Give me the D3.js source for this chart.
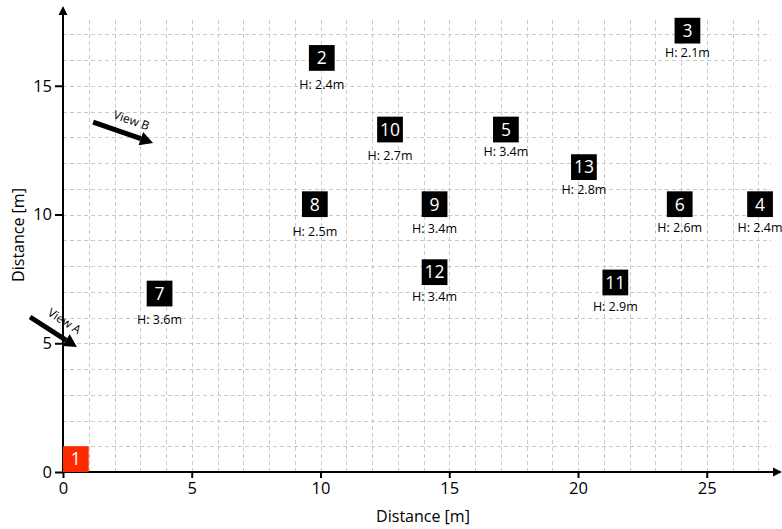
<!DOCTYPE html>
<html>
<head>
<meta charset="utf-8">
<script src="https://cdn.jsdelivr.net/npm/d3@7/dist/d3.min.js"></script>
<style>
  html, body { margin: 0; padding: 0; background: #fff; }
  svg { display: block; font-family: "Open Sans", sans-serif; }
</style>
</head>
<body>
<svg id="chart" width="782" height="529"></svg>
<script>
// ---- data ----
const ids = ["1","2","3","4","5","6","7","8","9","10","11","12","13"];
const xs = [0.5, 10.05, 24.25, 27.07, 17.2, 23.95, 3.75, 9.78, 14.43, 12.7, 21.45, 14.43, 20.23];
const ys = [0.5, 16.08, 17.14, 10.4, 13.3, 10.4, 6.93, 10.4, 10.4, 13.3, 7.36, 7.76, 11.84];
const heights = [null, 2.4, 2.1, 2.4, 3.4, 2.6, 3.6, 2.5, 3.4, 2.7, 2.9, 3.4, 2.8];
const labelYs = [null, 15.03, 16.3, 9.49, 12.44, 9.49, 5.93, 9.33, 9.44, 12.28, 6.42, 6.81, 10.98];
const xTicks = [0, 5, 10, 15, 20, 25];
const yTicks = [0, 5, 10, 15];
const xTitle = "Distance [m]";
const yTitle = "Distance [m]";
const views = ["View A", "View B"];
const viewStart = [[-1.28, 6.02], [1.17, 13.59]];
const viewEnd = [[0.54, 4.85], [3.5, 12.78]];

// ---- layout ----
const svg = d3.select("#chart");
const x = d3.scaleLinear().domain([0, 28]).range([63, 63 + 28 * 25.75]);
const y = d3.scaleLinear().domain([0, 18]).range([472, 472 - 18 * 25.75]);
const gridXMax = 27.5, gridYMax = 17.6;

// grid
const grid = svg.append("g").attr("stroke", "#cacaca").attr("stroke-width", 1)
  .attr("stroke-dasharray", "4,3").attr("fill", "none");
grid.selectAll("line.v").data(d3.range(1, 28)).join("line").attr("class", "v")
  .attr("x1", d => Math.round(x(d)) + 0.5).attr("x2", d => Math.round(x(d)) + 0.5)
  .attr("y1", y(0)).attr("y2", y(gridYMax));
grid.selectAll("line.h").data(d3.range(1, 18)).join("line").attr("class", "h")
  .attr("y1", d => Math.round(y(d)) + 0.5).attr("y2", d => Math.round(y(d)) + 0.5)
  .attr("x1", x(0)).attr("x2", x(gridXMax));

// axes
const xAxis = d3.axisBottom(x).tickValues(xTicks).tickSize(6).tickPadding(4).tickFormat(d3.format("d"));
const yAxis = d3.axisLeft(y).tickValues(yTicks).tickSize(8).tickPadding(3).tickFormat(d3.format("d"));
const gx = svg.append("g").attr("transform", `translate(0,${y(0)})`).call(xAxis);
const gy = svg.append("g").attr("transform", `translate(${x(0)},0)`).call(yAxis);
[gx, gy].forEach(g => {
  g.select(".domain").remove();
  g.selectAll(".tick line").attr("stroke", "#000").attr("stroke-width", 2);
  g.selectAll(".tick text").attr("font-size", 16.5).attr("fill", "#000")
    .attr("font-family", "'Open Sans', sans-serif");
});
// axis lines with arrows
svg.append("line").attr("x1", x(0) - 1).attr("x2", 778).attr("y1", y(0)).attr("y2", y(0))
  .attr("stroke", "#000").attr("stroke-width", 2);
svg.append("path").attr("d", `M782,${y(0)} L773,${y(0) - 4.5} L773,${y(0) + 4.5} Z`).attr("fill", "#000");
svg.append("line").attr("x1", x(0)).attr("x2", x(0)).attr("y1", y(0) + 1).attr("y2", 12)
  .attr("stroke", "#000").attr("stroke-width", 2);
svg.append("path").attr("d", `M${x(0)},6 L${x(0) - 4.5},15 L${x(0) + 4.5},15 Z`).attr("fill", "#000");

// axis titles
svg.append("text").attr("x", 423).attr("y", 522).attr("text-anchor", "middle")
  .attr("font-size", 16).text(xTitle);
svg.append("text").attr("transform", "translate(24,235) rotate(-90)").attr("text-anchor", "middle")
  .attr("font-size", 16).text(yTitle);

// markers
const pts = ids.map((id, i) => ({ id, x: xs[i], y: ys[i], h: heights[i], ly: labelYs[i] }));
const side = x(1) - x(0);
const g = svg.append("g");
g.selectAll("rect").data(pts).join("rect")
  .attr("x", d => x(d.x) - side / 2).attr("y", d => y(d.y) - side / 2)
  .attr("width", side).attr("height", side)
  .attr("fill", d => d.h == null ? "#ff2a00" : "#000");
g.selectAll("text.id").data(pts).join("text").attr("class", "id")
  .attr("x", d => x(d.x)).attr("y", d => y(d.y)).attr("dy", "0.36em")
  .attr("text-anchor", "middle").attr("fill", "#fff").attr("font-size", 17.5).text(d => d.id);
g.selectAll("text.h").data(pts.filter(d => d.h != null)).join("text").attr("class", "h")
  .attr("x", d => x(d.x)).attr("y", d => y(d.ly)).attr("dy", "0.36em")
  .attr("text-anchor", "middle").attr("fill", "#000").attr("font-size", 12.5)
  .text(d => `H: ${d.h.toFixed(1)}m`);

// view arrows
views.forEach((name, i) => {
  const x1 = x(viewStart[i][0]), y1 = y(viewStart[i][1]);
  const x2 = x(viewEnd[i][0]), y2 = y(viewEnd[i][1]);
  const ang = Math.atan2(y2 - y1, x2 - x1);
  const headL = 13, headW = 7;
  const bx = x2 - headL * Math.cos(ang), by = y2 - headL * Math.sin(ang);
  svg.append("line").attr("x1", x1).attr("y1", y1).attr("x2", bx).attr("y2", by)
    .attr("stroke", "#000").attr("stroke-width", 5);
  const px = -Math.sin(ang), py = Math.cos(ang);
  svg.append("path").attr("d",
    `M${x2},${y2} L${bx + px * headW},${by + py * headW} L${bx - px * headW},${by - py * headW} Z`)
    .attr("fill", "#000");
  const mx = (x1 + x2) / 2 + 4 + 13 * Math.sin(ang), my = (y1 + y2) / 2 - 13 * Math.cos(ang);
  svg.append("text").attr("transform", `translate(${mx},${my}) rotate(${ang * 180 / Math.PI})`)
    .attr("text-anchor", "middle").attr("dy", "0.35em").attr("font-size", 12).text(name);
});
</script>
</body>
</html>
